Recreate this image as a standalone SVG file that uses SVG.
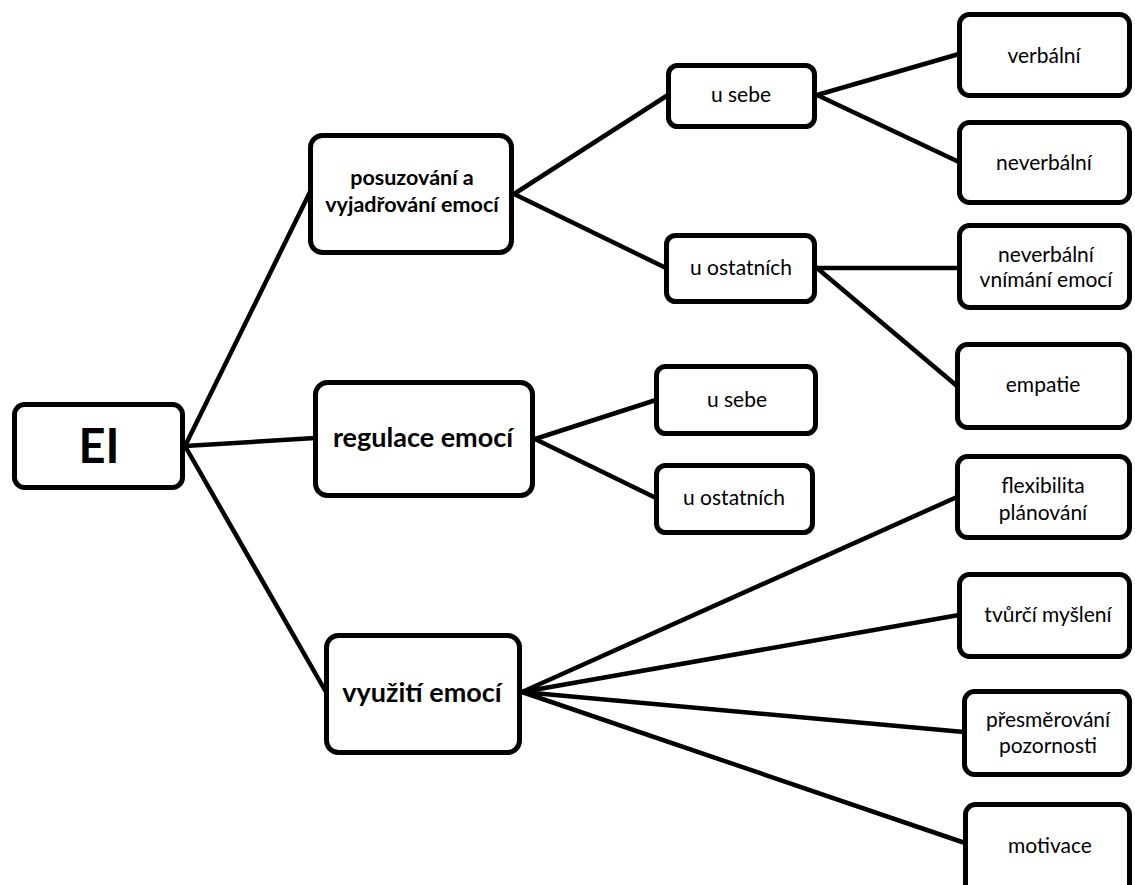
<svg xmlns="http://www.w3.org/2000/svg" width="1135" height="885" viewBox="0 0 1135 885">
<style>
.bg{fill:#fff}
.box{fill:#fff;stroke:#000;stroke-width:5}
.ln{stroke:#000;stroke-width:4.5;fill:none;stroke-linecap:round}
text{font-family:Lato,"Open Sans","Liberation Sans",sans-serif;fill:#000;text-anchor:middle}
.r{font-size:21px}
.b{font-size:21.5px;font-weight:bold}
.bb{font-size:27px;font-weight:bold}
.xl{font-size:47px;font-weight:bold}
</style>
<rect class="bg" x="0" y="0" width="1135" height="885"/>
<g id="connectors">
<line class="ln" x1="185" y1="446" x2="310" y2="192"/>
<line class="ln" x1="185" y1="446" x2="315" y2="438"/>
<line class="ln" x1="185" y1="446" x2="326" y2="692"/>
<line class="ln" x1="514" y1="194" x2="668" y2="95"/>
<line class="ln" x1="514" y1="194" x2="666" y2="268"/>
<line class="ln" x1="817" y1="95" x2="959" y2="54"/>
<line class="ln" x1="817" y1="95" x2="959" y2="162"/>
<line class="ln" x1="817" y1="268" x2="959" y2="268"/>
<line class="ln" x1="817" y1="268" x2="957" y2="386"/>
<line class="ln" x1="535" y1="439" x2="656" y2="400"/>
<line class="ln" x1="535" y1="439" x2="656" y2="498"/>
<line class="ln" x1="522" y1="692" x2="957" y2="497"/>
<line class="ln" x1="522" y1="692" x2="959" y2="615"/>
<line class="ln" x1="522" y1="692" x2="964" y2="732"/>
<line class="ln" x1="522" y1="692" x2="965" y2="843"/>
</g>
<g id="n-ei"><rect class="box" x="14.5" y="404.5" width="168" height="83" rx="10"/><text class="xl" x="99" y="463">EI</text></g>
<g id="n-posuzovani"><rect class="box" x="310.5" y="135.5" width="201" height="117" rx="12"/><text class="b" x="412" y="185">posuzování a</text><text class="b" x="412" y="212">vyjadřování emocí</text></g>
<g id="n-regulace"><rect class="box" x="315.5" y="382.5" width="217" height="113" rx="12"/><text class="bb" x="423" y="447">regulace emocí</text></g>
<g id="n-vyuziti"><rect class="box" x="326.5" y="635.5" width="193" height="117" rx="12"/><text class="bb" x="422" y="702">využití emocí</text></g>
<g id="n-usebe1"><rect class="box" x="668.5" y="65.5" width="146" height="61" rx="9"/><text class="r" x="741" y="102">u sebe</text></g>
<g id="n-uostatnich1"><rect class="box" x="666.5" y="235.5" width="148" height="66" rx="9"/><text class="r" x="741" y="275">u ostatních</text></g>
<g id="n-usebe2"><rect class="box" x="656.5" y="366.5" width="159" height="67" rx="9"/><text class="r" x="737" y="407">u sebe</text></g>
<g id="n-uostatnich2"><rect class="box" x="656.5" y="465.5" width="156" height="67" rx="9"/><text class="r" x="734" y="505">u ostatních</text></g>
<g id="n-verbalni"><rect class="box" x="959.5" y="14.5" width="170" height="81" rx="10"/><text class="r" x="1044" y="63">verbální</text></g>
<g id="n-neverbalni"><rect class="box" x="959.5" y="122.5" width="170" height="80" rx="10"/><text class="r" x="1044" y="170">neverbální</text></g>
<g id="n-neverbalni-vnimani"><rect class="box" x="959.5" y="225.5" width="170" height="82" rx="10"/><text class="r" x="1046" y="262">neverbální</text><text class="r" x="1046" y="287">vnímání emocí</text></g>
<g id="n-empatie"><rect class="box" x="957.5" y="344.5" width="172" height="83" rx="10"/><text class="r" x="1043" y="392">empatie</text></g>
<g id="n-flexibilita"><rect class="box" x="957.5" y="456.5" width="172" height="81" rx="10"/><text class="r" x="1043" y="493">flexibilita</text><text class="r" x="1043" y="520">plánování</text></g>
<g id="n-tvurci"><rect class="box" x="959.5" y="574.5" width="170" height="82" rx="10"/><text class="r" x="1048" y="622">tvůrčí myšlení</text></g>
<g id="n-presmerovani"><rect class="box" x="964.5" y="691.5" width="165" height="83" rx="10"/><text class="r" x="1048" y="727">přesměrování</text><text class="r" x="1048" y="753">pozornosti</text></g>
<g id="n-motivace"><rect class="box" x="965.5" y="804.5" width="164" height="90" rx="10"/><text class="r" x="1050" y="853">motivace</text></g>
</svg>
